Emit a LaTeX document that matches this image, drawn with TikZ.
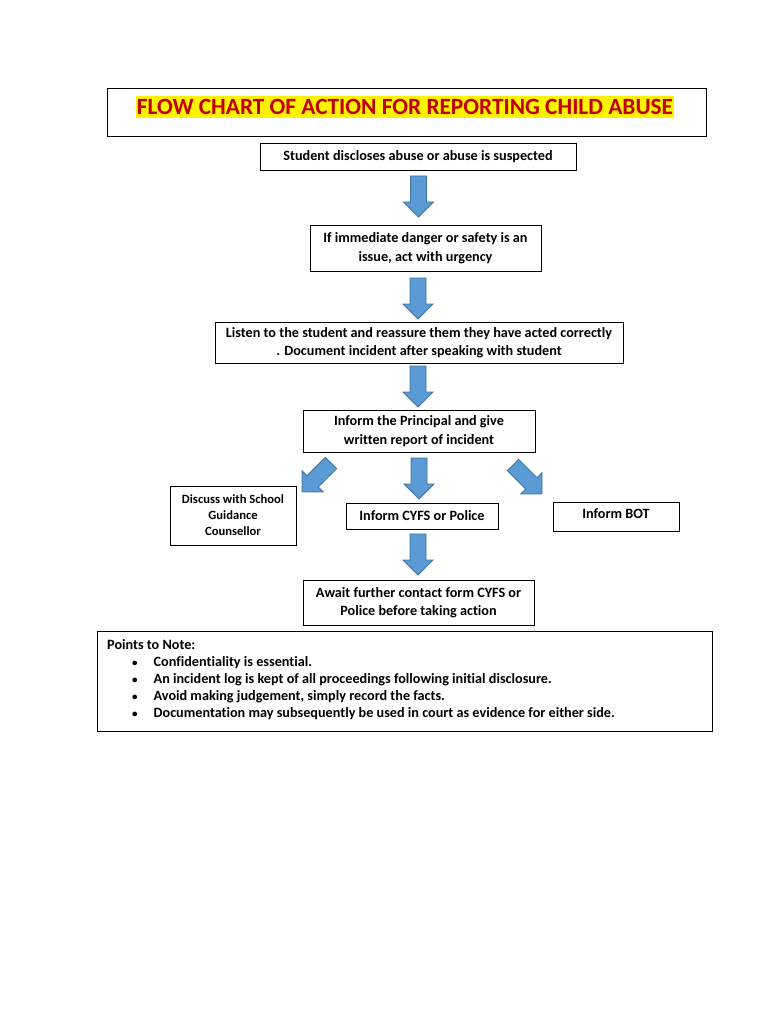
\documentclass[tikz,border=0pt]{standalone}
\usepackage{fontspec}
\setmainfont{Carlito}[Ligatures=NoCommon]
\usetikzlibrary{positioning}
\definecolor{arrfill}{HTML}{5B9BD5}
\definecolor{arrline}{HTML}{41719C}
\definecolor{titlered}{HTML}{C00000}
\newcommand{\bodyfont}{\fontsize{14.2}{18.5}\selectfont\bfseries}
\newcommand{\smallfont}{\fontsize{12.6}{16}\selectfont\bfseries}
\newcommand{\notebullet}{\hspace*{25pt}{\fontsize{11}{11}\selectfont\textbullet}\hspace{16pt}}
\tikzset{
  flowbox/.style={draw, line width=0.8pt, align=center, font=\bodyfont, inner sep=2pt},
  smallbox/.style={flowbox, font=\smallfont},
  pics/blockarr/.style={code={
    \draw[fill=arrfill, draw=arrline, line width=0.8pt, line join=miter]
      (-8,0) -- (8,0) -- (8,26) -- (15,26) -- (0,41) -- (-15,26) -- (-8,26) -- cycle;
  }}
}
\begin{document}
\begin{tikzpicture}[x=1pt,y=-1pt]
        \useasboundingbox (0,0) rectangle (768,1024);
        %titolo
        \node[draw, line width=0.8pt, minimum width=599pt, minimum height=48pt] (title) at (406.5,112) {};
        \node[fill=yellow, inner xsep=1pt, inner ysep=3pt, text=titlered,
              font=\fontsize{23.3}{26}\selectfont\bfseries] (titletext) at (405,107) {FLOW CHART OF ACTION FOR REPORTING CHILD ABUSE};

        %caselle del diagramma
        \node[flowbox, minimum width=316pt, minimum height=27pt] (disclose) at (418,156.5) {Student discloses abuse or abuse is suspected};
        \node[flowbox, minimum width=231pt, minimum height=46pt] (danger) at (425.5,248) {If immediate danger or safety is an\\issue, act with urgency};
        \node[flowbox, minimum width=408pt, minimum height=41pt] (listen) at (419,342.5) {Listen to the student and reassure them they have acted correctly\\. Document incident after speaking with student};
        \node[flowbox, minimum width=232pt, minimum height=42pt] (principal) at (419,431) {Inform the Principal and give\\written report of incident};
        \node[smallbox, minimum width=126pt, minimum height=59pt] (counsellor) at (233,515.5) {Discuss with School\\Guidance\\Counsellor};
        \node[flowbox, minimum width=152pt, minimum height=26pt] (cyfs) at (422,516) {Inform CYFS or Police};
        \node[flowbox, minimum width=126pt, text depth=6.7pt, inner ysep=6.5pt] (bot) at (616,517) {Inform BOT};
        \node[flowbox, minimum width=231pt, minimum height=45pt] (await) at (418.5,602.5) {Await further contact form CYFS or\\Police before taking action};

        %frecce
        \pic at (418.5,176) {blockarr};
        \pic at (418,278) {blockarr};
        \pic at (418,366) {blockarr};
        \pic at (419,458) {blockarr};
        \pic at (418,534) {blockarr};
        \pic[rotate=-45] at (331,463) {blockarr};
        \pic[rotate=45] at (513,465) {blockarr};

        %note
        \node[draw, line width=0.8pt, minimum width=615pt, minimum height=100pt] (notes) at (404.5,681) {};
        \node[anchor=north west, align=left, inner sep=0pt, font=\fontsize{14.2}{16.9}\selectfont\bfseries] (notetext) at (107,639.5)
          {Points to Note:\\
           \notebullet Confidentiality is essential.\\
           \notebullet An incident log is kept of all proceedings following initial disclosure.\\
           \notebullet Avoid making judgement, simply record the facts.\\
           \notebullet Documentation may subsequently be used in court as evidence for either side.};
    \end{tikzpicture}
\end{document}
